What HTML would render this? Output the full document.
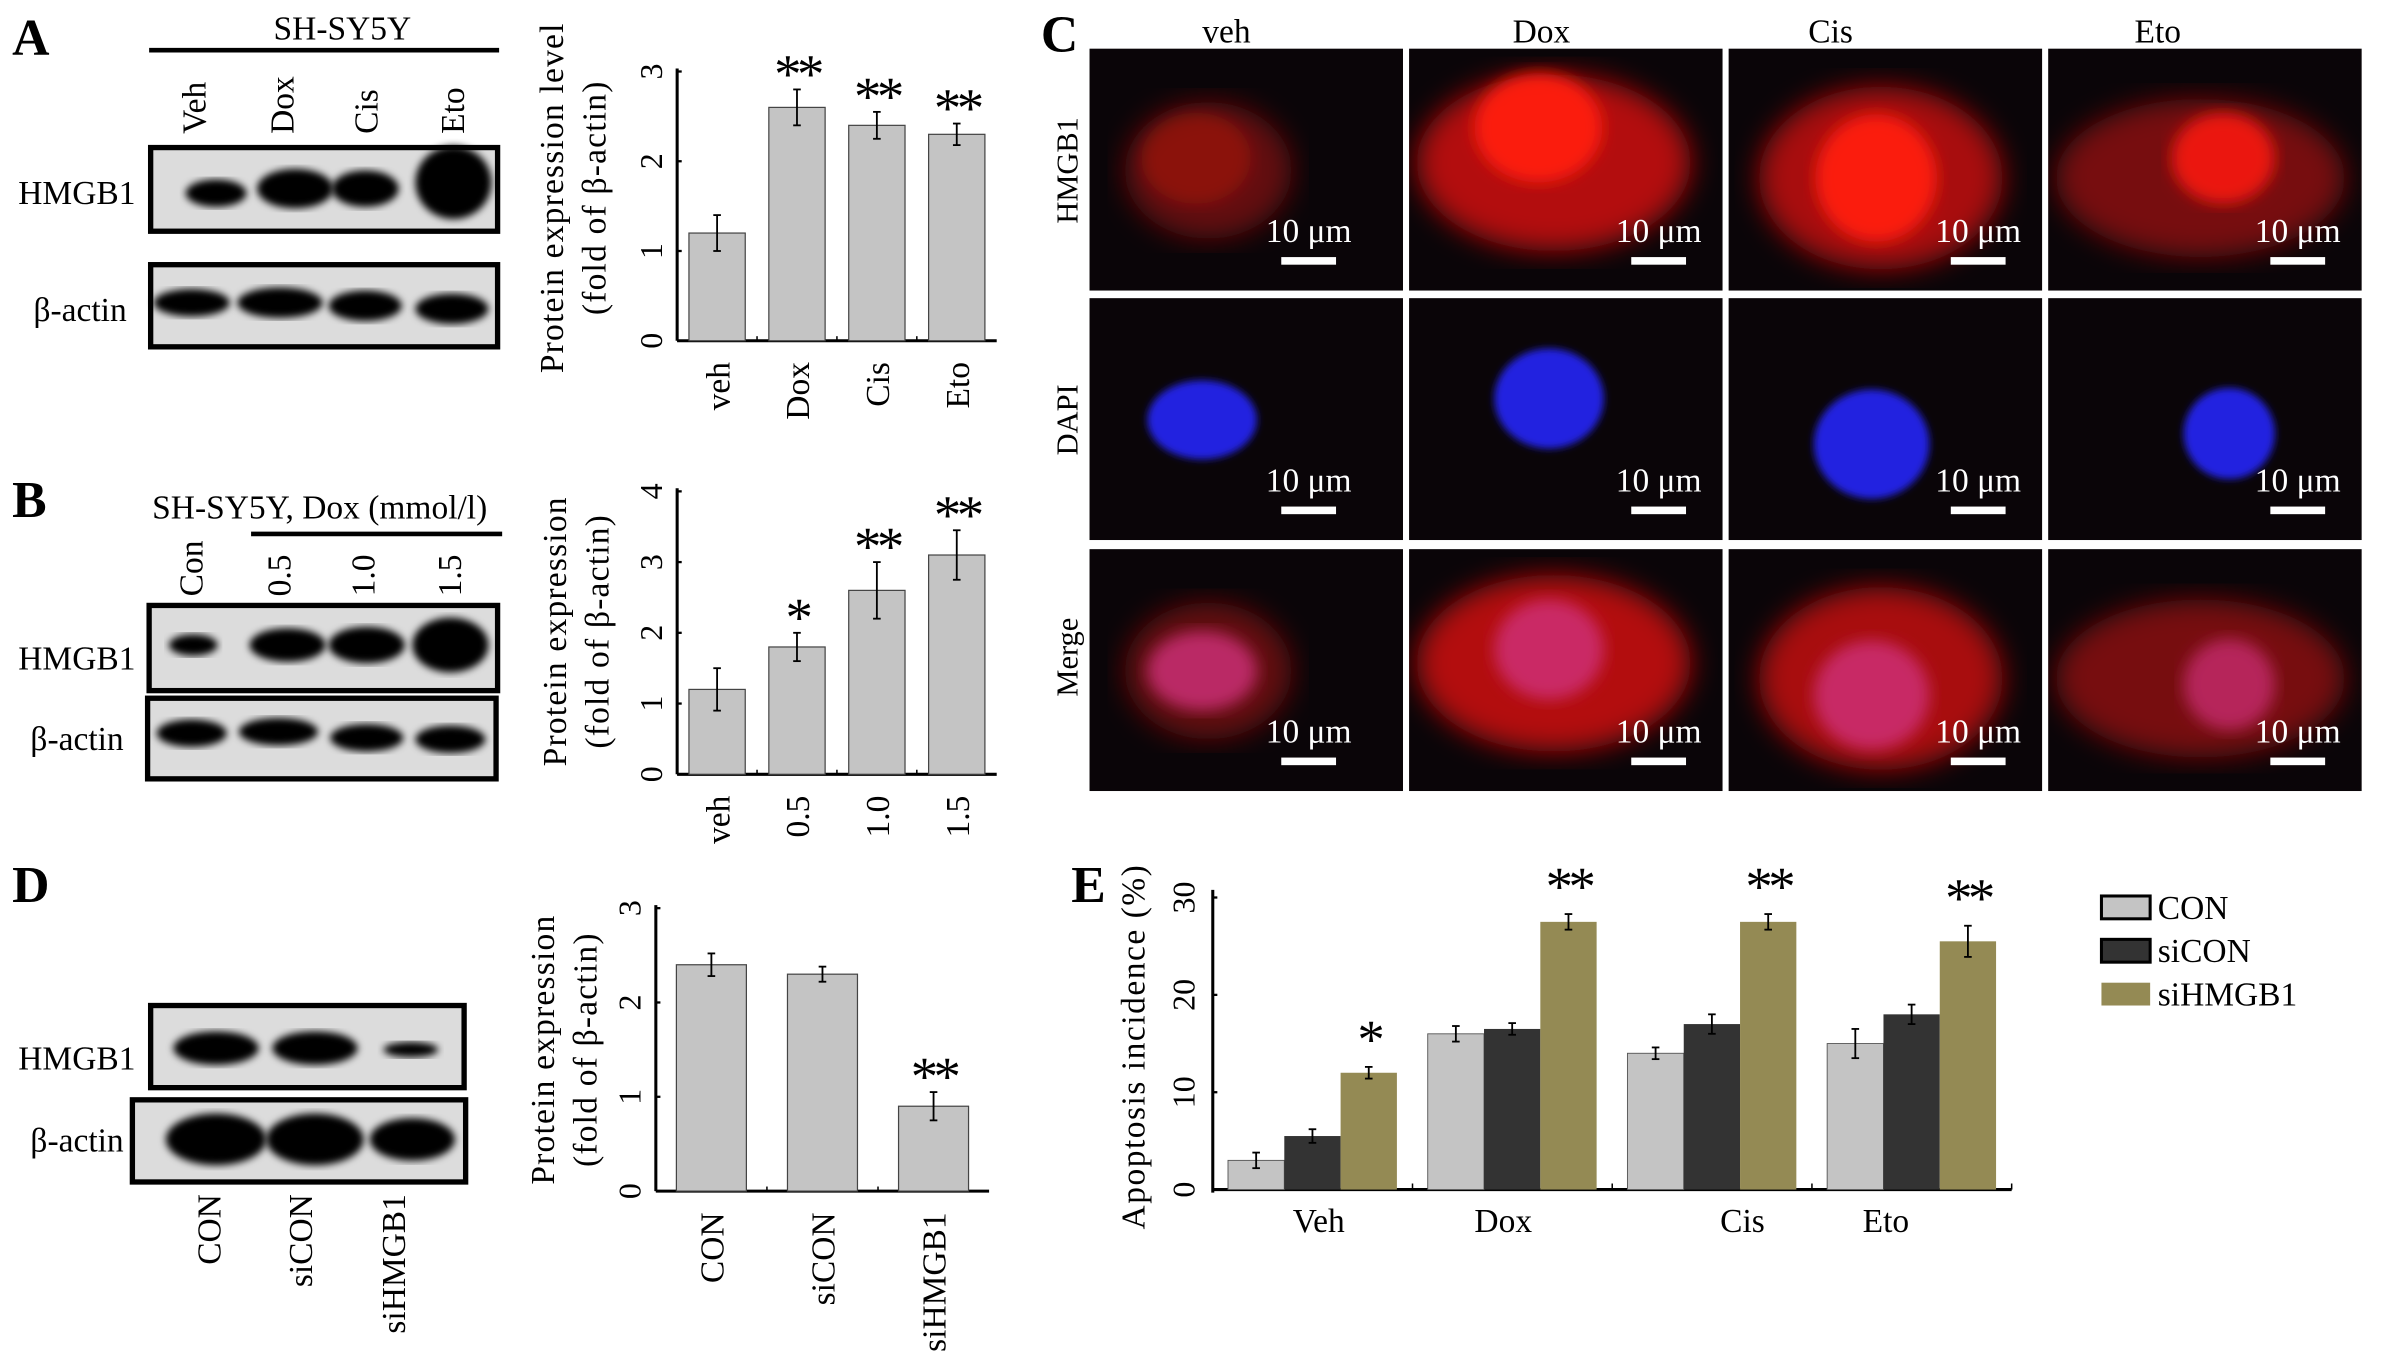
<!DOCTYPE html>
<html><head><meta charset="utf-8"><style>
html,body{margin:0;padding:0;background:#fff;}
svg{display:block;font-family:"Liberation Serif",serif;}
</style></head><body>
<svg id="fig" width="2386" height="1363" viewBox="0 0 1568 896" preserveAspectRatio="none" xmlns="http://www.w3.org/2000/svg">
<defs>
<filter id="blur2"><feGaussianBlur stdDeviation="2.5"/></filter>
<filter id="blur6"><feGaussianBlur stdDeviation="9"/></filter>
<filter id="blur3"><feGaussianBlur stdDeviation="5"/></filter>
</defs>
<g id="static"></g>
<g id="charts"></g>
</svg>
<script>
// ---------- DATA ----------
const catsA = ["veh","Dox","Cis","Eto"];
const valsA = [1.2, 2.6, 2.4, 2.3];
const errsA = [0.2, 0.2, 0.15, 0.12];
const starsA = ["", "**", "**", "**"];
const ticksA = [0,1,2,3];

const catsB = ["veh","0.5","1.0","1.5"];
const valsB = [1.2, 1.8, 2.6, 3.1];
const errsB = [0.3, 0.2, 0.4, 0.35];
const starsB = ["", "*", "**", "**"];
const ticksB = [0,1,2,3,4];

const catsD = ["CON","siCON","siHMGB1"];
const valsD = [2.4, 2.3, 0.9];
const errsD = [0.12, 0.08, 0.15];
const starsD = ["", "", "**"];
const ticksD = [0,1,2,3];

const catsE = ["Veh","Dox","Cis","Eto"];
const seriesE = ["CON","siCON","siHMGB1"];
const valsE_CON = [3, 16, 14, 15];
const valsE_siCON = [5.5, 16.5, 17, 18];
const valsE_siHMGB1 = [12, 27.5, 27.5, 25.5];
const errsE_CON = [0.8, 0.8, 0.6, 1.5];
const errsE_siCON = [0.7, 0.6, 1.0, 1.0];
const errsE_siHMGB1 = [0.6, 0.8, 0.8, 1.6];
const starsE = ["*", "**", "**", "**"];
const ticksE = [0,10,20,30];

const NS = "http://www.w3.org/2000/svg";
function el(parent, tag, attrs, text){
  const e = document.createElementNS(NS, tag);
  for (const k in attrs) e.setAttribute(k, attrs[k]);
  if (text !== undefined) e.textContent = text;
  parent.appendChild(e);
  return e;
}
const S = document.getElementById('static');
const C = document.getElementById('charts');

function txt(parent, x, y, s, size, opts){
  opts = opts || {};
  const t = el(parent, 'text', {x:x, y:y, 'font-size':size, fill: opts.fill||'#000',
    'text-anchor': opts.anchor||'start', 'font-weight': opts.bold?'bold':'normal'}, s);
  if (opts.rot) t.setAttribute('transform', 'rotate(' + opts.rot + ' ' + x + ' ' + y + ')');
  if (opts.ls) t.setAttribute('letter-spacing', opts.ls);
  return t;
}

// ---------- panel letters ----------
[["A",8,36],["B",8,340],["C",684,34],["D",8,593],["E",704,593]].forEach(p=>{
  const t = txt(S,p[1],p[2],p[0],34,{bold:true});
  
  
});

// ---------- blots ----------
function blotBox(x,y,w,h,bands,name){
  const g = el(S,'g',{});
  
  
  el(g,'rect',{x:x,y:y,width:w,height:h,fill:'#dcdcdc',stroke:'#000','stroke-width':3.5});
  bands.forEach(b=>{
    el(g,'ellipse',{cx:b[0],cy:b[1],rx:b[2],ry:b[3],fill:'#000',filter:'url(#blur2)'});
  });
  return g;
}
// A
txt(S,225,26,"SH-SY5Y",22,{anchor:'middle'});
el(S,'line',{x1:98,y1:33,x2:328,y2:33,stroke:'#000','stroke-width':3});
[["Veh",135],["Dox",193],["Cis",248],["Eto",305]].forEach(l=>txt(S,l[1],88,l[0],22,{rot:-90}));
blotBox(99,97,228,55,[[142,127,20,9],[194,124,25,13],[240,124,22,12],[298,120,25,24]],'blot-a-hmgb1');
blotBox(99,174,228,54,[[126,199,25,9],[184,199,28,10],[240,201,24,10],[297,203,24,10]],'blot-a-actin');
txt(S,12,134,"HMGB1",22);
txt(S,22,211,"β-actin",22);
// B
txt(S,100,341,"SH-SY5Y, Dox (mmol/l)",22);
el(S,'line',{x1:165,y1:351,x2:330,y2:351,stroke:'#000','stroke-width':3});
[["Con",133],["0.5",191],["1.0",246],["1.5",303]].forEach(l=>txt(S,l[1],392,l[0],22,{rot:-90}));
blotBox(98,398,229,56,[[127,424,16,7],[189,424,25,11],[241,424,25,12],[296,424,25,18]],'blot-b-hmgb1');
blotBox(97,459,229,53,[[126,482,23,9],[183,481,26,9],[241,485,24,9],[296,486,23,9]],'blot-b-actin');
txt(S,12,440,"HMGB1",22);
txt(S,20,493,"β-actin",22);
// D
blotBox(99,661,206,54,[[142,689,28,11],[207,689,28,11],[270,690,18,5]],'blot-d-hmgb1');
blotBox(87,723,219,54,[[142,749,33,17],[207,749,32,17],[271,749,28,14]],'blot-d-actin');
txt(S,12,703,"HMGB1",22);
txt(S,20,757,"β-actin",22);
[["CON",145],["siCON",205],["siHMGB1",266]].forEach(l=>{
  txt(S,l[1],785,l[0],22,{rot:-90,anchor:'end'});
});

// ---------- microscopy tiles ----------
const colX = [716, 926, 1136, 1346];
const rowY = [32, 196, 361];
const tileW = 206, tileH = 159;
const hdr = ["veh","Dox","Cis","Eto"];
const hdrX = [806, 1013, 1203, 1418];
hdr.forEach((h,i)=>txt(S,hdrX[i],28,h,22,{anchor:'middle'}));
[["HMGB1",112],["DAPI",276],["Merge",432]].forEach(r=>txt(S,708,r[1],r[0],20,{rot:-90,anchor:'middle'}));
const cells = [
  {cx:78,cy:80,rx:55,ry:45,int:0.45, hx:70,hy:72,hrx:36,hry:30,hint:0.25, dx:74,dy:80,drx:36,dry:26},
  {cx:95,cy:75,rx:90,ry:58,int:0.85, hx:85,hy:52,hrx:42,hry:36,hint:0.95, dx:92,dy:66,drx:36,dry:33},
  {cx:100,cy:85,rx:80,ry:60,int:0.8, hx:97,hy:85,hrx:40,hry:42,hint:0.95, dx:94,dy:96,drx:38,dry:36},
  {cx:100,cy:85,rx:95,ry:52,int:0.55, hx:115,hy:72,hrx:34,hry:30,hint:0.85, dx:119,dy:89,drx:30,dry:30}
];
colX.forEach((x,ci)=>{
  rowY.forEach((y,ri)=>{
    const g = el(S,'g',{});
    
    
    const cpth = el(g,'clipPath',{id:'clip'+ci+ri});
    el(cpth,'rect',{x:x,y:y,width:tileW,height:tileH});
    el(g,'rect',{x:x,y:y,width:tileW,height:tileH,fill:'#0a0508'});
    const inner = el(g,'g',{'clip-path':'url(#clip'+ci+ri+')'});
    const c = cells[ci];
    if (ri !== 1){
      el(inner,'ellipse',{cx:x+c.cx,cy:y+c.cy,rx:c.rx,ry:c.ry,fill:'#d0100f','fill-opacity':c.int,filter:'url(#blur6)'});
    }
    if (ri === 0){
      el(inner,'ellipse',{cx:x+c.hx,cy:y+c.hy,rx:c.hrx,ry:c.hry,fill:'#ff1a10','fill-opacity':c.hint,filter:'url(#blur3)'});
    } else if (ri === 1){
      el(inner,'ellipse',{cx:x+c.dx,cy:y+c.dy,rx:c.drx,ry:c.dry,fill:'#2424e0',filter:'url(#blur2)'});
    } else {
      el(inner,'ellipse',{cx:x+c.dx,cy:y+c.dy,rx:c.drx,ry:c.dry,fill:'#d0307a','fill-opacity':ci==3?0.7:0.8,filter:'url(#blur3)'});
    }
    const sy = y + tileH - 28;
    const bx = x + tileW - (ci===0?62:42);
    txt(g, bx, sy-4, "10 μm", 22, {fill:'#fff',anchor:'middle'});
    el(g,'rect',{x:bx-18,y:sy+6,width:36,height:5,fill:'#fff'});
  });
});

// ---------- bar charts ----------
function barChart(name, cats, vals, errs, stars, ticks, cfg){
  const g = el(C,'g',{});
  
  
  const maxV = ticks[ticks.length-1];
  const yS = v => cfg.y0 - (v/maxV)*(cfg.y0-cfg.yTop);
  const band = (cfg.x1-cfg.x0)/cats.length;
  const xC = i => cfg.x0 + (i+0.5)*band;
  const ya = el(g,'line',{x1:cfg.x0,y1:cfg.yTop-2,x2:cfg.x0,y2:cfg.y0,stroke:'#000','stroke-width':2});
  
  
  const xa = el(g,'line',{x1:cfg.x0,y1:cfg.y0,x2:cfg.x1,y2:cfg.y0,stroke:'#000','stroke-width':2});
  
  
  ticks.forEach(t=>{
    el(g,'line',{x1:cfg.x0,y1:yS(t),x2:cfg.x0+3,y2:yS(t),stroke:'#000','stroke-width':1.5});
    const tl = txt(g,cfg.x0-10,yS(t),String(t),21,{rot:-90,anchor:'middle'});
    
    
  });
  cats.forEach((c,i)=>{
    const x = xC(i), bw = cfg.bw;
    const b = el(g,'rect',{x:x-bw/2,y:yS(vals[i]),width:bw,height:cfg.y0-yS(vals[i]),fill:'#c4c4c4',stroke:'#444','stroke-width':0.8});
    
    
    const top = yS(vals[i]+errs[i]), bot = yS(vals[i]-errs[i]);
    el(g,'line',{x1:x,y1:top,x2:x,y2:bot,stroke:'#000','stroke-width':1.2});
    el(g,'line',{x1:x-2.5,y1:top,x2:x+2.5,y2:top,stroke:'#000','stroke-width':1.2});
    el(g,'line',{x1:x-2.5,y1:bot,x2:x+2.5,y2:bot,stroke:'#000','stroke-width':1.2});
    if (i>0) el(g,'line',{x1:cfg.x0+i*band,y1:cfg.y0,x2:cfg.x0+i*band,y2:cfg.y0-3,stroke:'#000','stroke-width':1});
    if (stars[i]){
      const st = txt(g,x,top+2,stars[i],36,{anchor:'middle',ls:-3});
      
      
    }
    const xl = txt(g,x+8,cfg.y0+14,c,22,{rot:-90,anchor:'end'});
    
    
  });
  cfg.ylab.forEach((l,k)=>{
    const t = txt(g,cfg.ylx+k*28,cfg.yly,l,22,{rot:-90,anchor:'middle',ls:0.8});
    
    
  });
}
barChart('chart-a',catsA,valsA,errsA,starsA,ticksA,{x0:445,x1:655,y0:224,yTop:47,bw:37,
  ylab:["Protein expression level","(fold of β-actin)"],ylx:370,yly:130});
barChart('chart-b',catsB,valsB,errsB,starsB,ticksB,{x0:445,x1:655,y0:509,yTop:323,bw:37,
  ylab:["Protein expression","(fold of β-actin)"],ylx:372,yly:415});
barChart('chart-d',catsD,valsD,errsD,starsD,ticksD,{x0:431,x1:650,y0:783,yTop:597,bw:46,
  ylab:["Protein expression","(fold of β-actin)"],ylx:364,yly:690});

// ---------- chart E ----------
(function(){
  const g = el(C,'g',{});
  
  
  const x0=797, x1=1322, y0=782, yTop=590, maxV=ticksE[ticksE.length-1];
  const yS = v => y0 - (v/maxV)*(y0-yTop);
  const band=(x1-x0)/catsE.length, bw=37;
  const vals=[valsE_CON,valsE_siCON,valsE_siHMGB1];
  const errs=[errsE_CON,errsE_siCON,errsE_siHMGB1];
  const cols=['#c4c4c4','#333333','#948a54'];
  const ya = el(g,'line',{x1:x0,y1:yTop-5,x2:x0,y2:y0+2,stroke:'#000','stroke-width':2});
  
  
  const xa = el(g,'line',{x1:x0,y1:y0,x2:x1,y2:y0,stroke:'#000','stroke-width':2});
  
  
  ticksE.forEach(t=>{
    el(g,'line',{x1:x0,y1:yS(t),x2:x0+3,y2:yS(t),stroke:'#000','stroke-width':1.5});
    const tl = txt(g,x0-12,yS(t),String(t),21,{rot:-90,anchor:'middle'});
    
    
  });
  const labOff=[4,-6,20,-17];
  catsE.forEach((c,i)=>{
    const gx = x0 + i*band + 10;
    seriesE.forEach((s,k)=>{
      const x = gx + k*bw, v = vals[k][i], e = errs[k][i];
      const b = el(g,'rect',{x:x,y:yS(v),width:bw,height:y0-yS(v),fill:cols[k],stroke:k==0?'#555':'none','stroke-width':0.6});
      
      
      const cx=x+bw/2, top=yS(v+e), bot=yS(v-e);
      el(g,'line',{x1:cx,y1:top,x2:cx,y2:bot,stroke:'#000','stroke-width':1.2});
      el(g,'line',{x1:cx-2.5,y1:top,x2:cx+2.5,y2:top,stroke:'#000','stroke-width':1.2});
      el(g,'line',{x1:cx-2.5,y1:bot,x2:cx+2.5,y2:bot,stroke:'#000','stroke-width':1.2});
      if (k===2 && starsE[i]){
        const st = txt(g,cx,top-6,starsE[i],36,{anchor:'middle',ls:-3});
        
        
      }
    });
    if (i>0) el(g,'line',{x1:x0+i*band,y1:y0,x2:x0+i*band,y2:y0-4,stroke:'#000','stroke-width':1});
    const xl = txt(g,x0+(i+0.5)*band+labOff[i],y0+28,c,22,{anchor:'middle'});
    
    
  });
  el(g,'line',{x1:x1,y1:y0,x2:x1,y2:y0-4,stroke:'#000','stroke-width':1});
  const yt = txt(g,752,688,"Apoptosis incidence (%)",22,{rot:-90,anchor:'middle',ls:1});
  
  
  seriesE.forEach((s,k)=>{
    const ly = 589 + k*28.5;
    const sw = el(g,'rect',{x:1381,y:ly,width:32,height:15,fill:cols[k],stroke:k<2?'#000':'none','stroke-width':2});
    
    
    const lt = txt(g,1418,ly+15,s,22);
    
    
  });
})();
</script>
</body></html>
